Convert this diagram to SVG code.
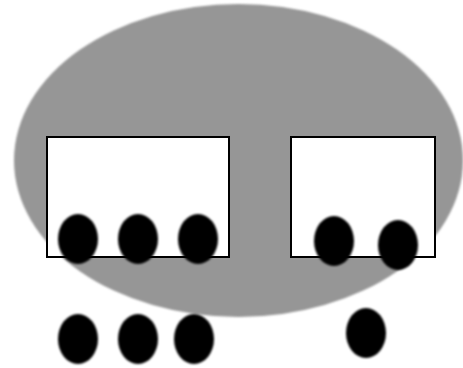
<svg xmlns="http://www.w3.org/2000/svg" width="463" height="368" viewBox="0 0 463 368">
<style>
.box{fill:#fff;stroke:#000;stroke-width:2}
.dot{fill:#000;filter:url(#soft)}
</style>
<defs>
<filter id="soft" x="-20%" y="-20%" width="140%" height="140%"><feGaussianBlur stdDeviation="0.8"/></filter>
</defs>
<rect width="463" height="368" fill="#fff"/>
<g id="cloud"><ellipse cx="238.5" cy="160.5" rx="224.5" ry="156.5" fill="#969696" filter="url(#soft)"/></g>
<g id="box1"><rect class="box" x="47" y="137" width="182" height="120"/></g>
<g id="box2"><rect class="box" x="291" y="137" width="144" height="120"/></g>
<g id="d1"><ellipse class="dot" cx="78" cy="239" rx="20" ry="25"/></g>
<g id="d2"><ellipse class="dot" cx="138" cy="239" rx="20" ry="25"/></g>
<g id="d3"><ellipse class="dot" cx="198" cy="239" rx="20" ry="25"/></g>
<g id="d4"><ellipse class="dot" cx="334" cy="241" rx="20" ry="25"/></g>
<g id="d5"><ellipse class="dot" cx="398" cy="245" rx="20" ry="25"/></g>
<g id="d6"><ellipse class="dot" cx="78" cy="339" rx="20" ry="25"/></g>
<g id="d7"><ellipse class="dot" cx="138" cy="339" rx="20" ry="25"/></g>
<g id="d8"><ellipse class="dot" cx="194" cy="339" rx="20" ry="25"/></g>
<g id="d9"><ellipse class="dot" cx="366" cy="333" rx="20" ry="25"/></g>
<g id="connectors"></g>
</svg>
